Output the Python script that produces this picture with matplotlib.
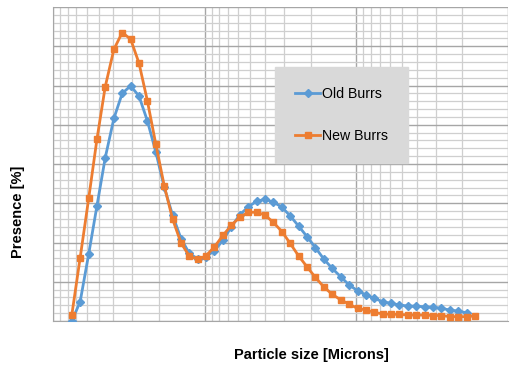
import matplotlib
matplotlib.use("Agg")
import matplotlib.pyplot as plt
from matplotlib.ticker import FixedLocator, MultipleLocator, NullFormatter

# particle size bins (microns)
size = [1.33, 1.51, 1.72, 1.95, 2.21, 2.52, 2.86, 3.25, 3.69, 4.19,
        4.76, 5.41, 6.14, 6.98, 7.93, 9.01, 10.2, 11.6, 13.2, 15.0,
        17.0, 19.4, 22.0, 25.0, 28.4, 32.3, 36.6, 41.6, 47.3, 53.7,
        61.0, 69.3, 78.8, 89.5, 102, 116, 131, 149, 169, 192,
        219, 248, 282, 320, 364, 414, 470, 534, 606]

old_burrs = [0.0, 0.49, 1.71, 2.94, 4.16, 5.16, 5.80, 5.99, 5.73, 5.10,
             4.31, 3.41, 2.70, 2.10, 1.72, 1.58, 1.64, 1.79, 2.06, 2.40,
             2.70, 2.91, 3.05, 3.10, 3.03, 2.90, 2.68, 2.42, 2.15, 1.87,
             1.58, 1.34, 1.13, 0.92, 0.77, 0.66, 0.58, 0.49, 0.45, 0.41,
             0.38, 0.38, 0.36, 0.35, 0.32, 0.28, 0.25, 0.21]

new_burrs = [0.15, 1.61, 3.13, 4.64, 5.97, 6.92, 7.35, 7.18, 6.57, 5.61,
             4.51, 3.45, 2.60, 1.99, 1.65, 1.57, 1.66, 1.89, 2.18, 2.44,
             2.64, 2.77, 2.77, 2.70, 2.51, 2.28, 1.98, 1.66, 1.38, 1.11,
             0.87, 0.68, 0.54, 0.43, 0.32, 0.28, 0.22, 0.18, 0.17, 0.17,
             0.15, 0.15, 0.15, 0.14, 0.14, 0.11, 0.11, 0.11, 0.13]

blue = "#5B9BD5"
orange = "#ED7D31"

fig = plt.figure(figsize=(5.13, 3.67), dpi=100)
ax = fig.add_axes([53/513, 46/367, 455/513, 314/367])

ax.plot(size[:len(old_burrs)], old_burrs, color=blue, lw=2, marker="D",
        ms=4, label="Old Burrs", zorder=3)
ax.plot(size, new_burrs, color=orange, lw=2, marker="s", ms=5,
        label="New Burrs", zorder=4)

ax.set_xscale("log")
ax.set_xlim(1, 1000)
ax.set_ylim(0, 8)

# excel-style minor grid: lines sit at 10/n inside each decade
minor_x = [d * 10 / n for d in (1, 10, 100) for n in range(2, 10)]
ax.xaxis.set_major_locator(FixedLocator([1, 10, 100, 1000]))
ax.xaxis.set_minor_locator(FixedLocator(minor_x))
ax.xaxis.set_major_formatter(NullFormatter())
ax.xaxis.set_minor_formatter(NullFormatter())
ax.yaxis.set_major_locator(MultipleLocator(1))
ax.yaxis.set_minor_locator(MultipleLocator(0.2))
ax.yaxis.set_major_formatter(NullFormatter())
ax.tick_params(which="both", length=0)

ax.grid(which="major", color="#a6a6a6", lw=1.0)
ax.grid(which="minor", color="#cfcfcf", lw=0.9)
ax.set_axisbelow(True)
for s in ["top", "right"]:
    ax.spines[s].set_visible(False)
for s in ["left", "bottom"]:
    ax.spines[s].set_color("#a6a6a6")

leg = ax.legend(loc="upper left", bbox_to_anchor=((275-53)/455, (321-67)/314),
                frameon=True, fancybox=False, facecolor="#d9d9d9",
                edgecolor="#d9d9d9", framealpha=1, borderaxespad=0,
                handlelength=1.8, handletextpad=0.1, labelspacing=2.0,
                borderpad=1.4, prop={"family": "Liberation Sans", "size": 10.2})

fig.text(18/513, 1 - 212/367, "Presence [%]", rotation=90, ha="center",
         va="center", fontsize=10.5, fontweight="bold", family="Liberation Sans")
fig.text(311/513, 1 - 355/367, "Particle size [Microns]", ha="center",
         va="center", fontsize=10.5, fontweight="bold", family="Liberation Sans")

fig.savefig("out.png", dpi=100)
